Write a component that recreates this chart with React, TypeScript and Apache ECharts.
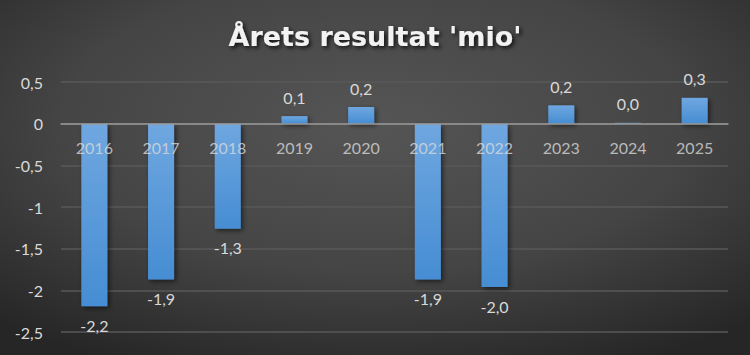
import React, { useEffect, useRef } from "react";
import * as echarts from "echarts";

const categories = ["2016", "2017", "2018", "2019", "2020", "2021", "2022", "2023", "2024", "2025"];
const values = [-2.19, -1.87, -1.26, 0.09, 0.2, -1.87, -1.96, 0.22, 0.01, 0.31];
const yTicks = { min: -2.5, max: 0.5, interval: 0.5 };
const titleText = "Årets resultat 'mio'";

const fmt = (v: number) => v.toFixed(1).replace(".", ",");

export default function App() {
  const ref = useRef<HTMLDivElement>(null);
  useEffect(() => {
    document.body.style.margin = "0";
    if (!ref.current) return;
    const chart = echarts.init(ref.current, undefined, { renderer: "svg" });
    chart.setOption({
      animation: false,
      backgroundColor: {
        type: "radial",
        x: 0.5,
        y: 0.35,
        r: 0.75,
        colorStops: [
          { offset: 0, color: "#555555" },
          { offset: 0.55, color: "#454545" },
          { offset: 1, color: "#262626" },
        ],
      },
      title: {
        text: titleText,
        left: "center",
        top: 18,
        textStyle: {
          fontFamily: "DejaVu Sans",
          fontWeight: "bold",
          fontSize: 27,
          color: "#f2f2f2",
          textShadowColor: "rgba(0,0,0,0.8)",
          textShadowBlur: 4,
          textShadowOffsetX: 2,
          textShadowOffsetY: 2,
        },
      },
      grid: { left: 61, right: 22, top: 82, bottom: 23 },
      xAxis: {
        type: "category",
        data: categories,
        z: 10,
        axisLine: { onZero: true, lineStyle: { color: "#9a9a9a", width: 1.5 } },
        axisTick: { show: false },
        axisLabel: { show: false },
      },
      yAxis: {
        type: "value",
        min: yTicks.min,
        max: yTicks.max,
        interval: yTicks.interval,
        axisLine: { show: false },
        axisTick: { show: false },
        splitLine: { lineStyle: { color: "#595959", width: 1.5 } },
        axisLabel: {
          color: "#d9d9d9",
          fontFamily: "Lato",
          fontSize: 16,
          margin: 18,
          formatter: (v: number) => String(Math.round(v * 10) / 10).replace(".", ","),
        },
      },
      series: [
        {
          type: "bar",
          barWidth: "39%",
          data: values.map((v) => ({
            value: v,
            label: { position: v >= 0 ? "top" : "bottom" },
          })),
          itemStyle: {
            color: {
              type: "linear",
              x: 0,
              y: 0,
              x2: 0,
              y2: 1,
              colorStops: [
                { offset: 0, color: "#6fa7e0" },
                { offset: 1, color: "#468dd3" },
              ],
            },
            shadowColor: "rgba(0,0,0,0.55)",
            shadowBlur: 5,
            shadowOffsetX: 2,
            shadowOffsetY: 2,
          },
          label: {
            show: true,
            distance: 11,
            color: "#d9d9d9",
            fontFamily: "Lato",
            fontSize: 16,
            formatter: (p: any) => fmt(p.value),
          },
        },
        {
          type: "scatter",
          z: 10,
          symbolSize: 0,
          silent: true,
          data: categories.map((c) => [c, 0]),
          label: {
            show: true,
            position: "bottom",
            distance: 16,
            color: "#d9d9d9",
            fontFamily: "Lato",
            fontSize: 16,
            formatter: (p: any) => p.value[0],
          },
        },
      ],
    });
    return () => chart.dispose();
  }, []);
  return <div ref={ref} style={{ width: 750, height: 355 }} />;
}
